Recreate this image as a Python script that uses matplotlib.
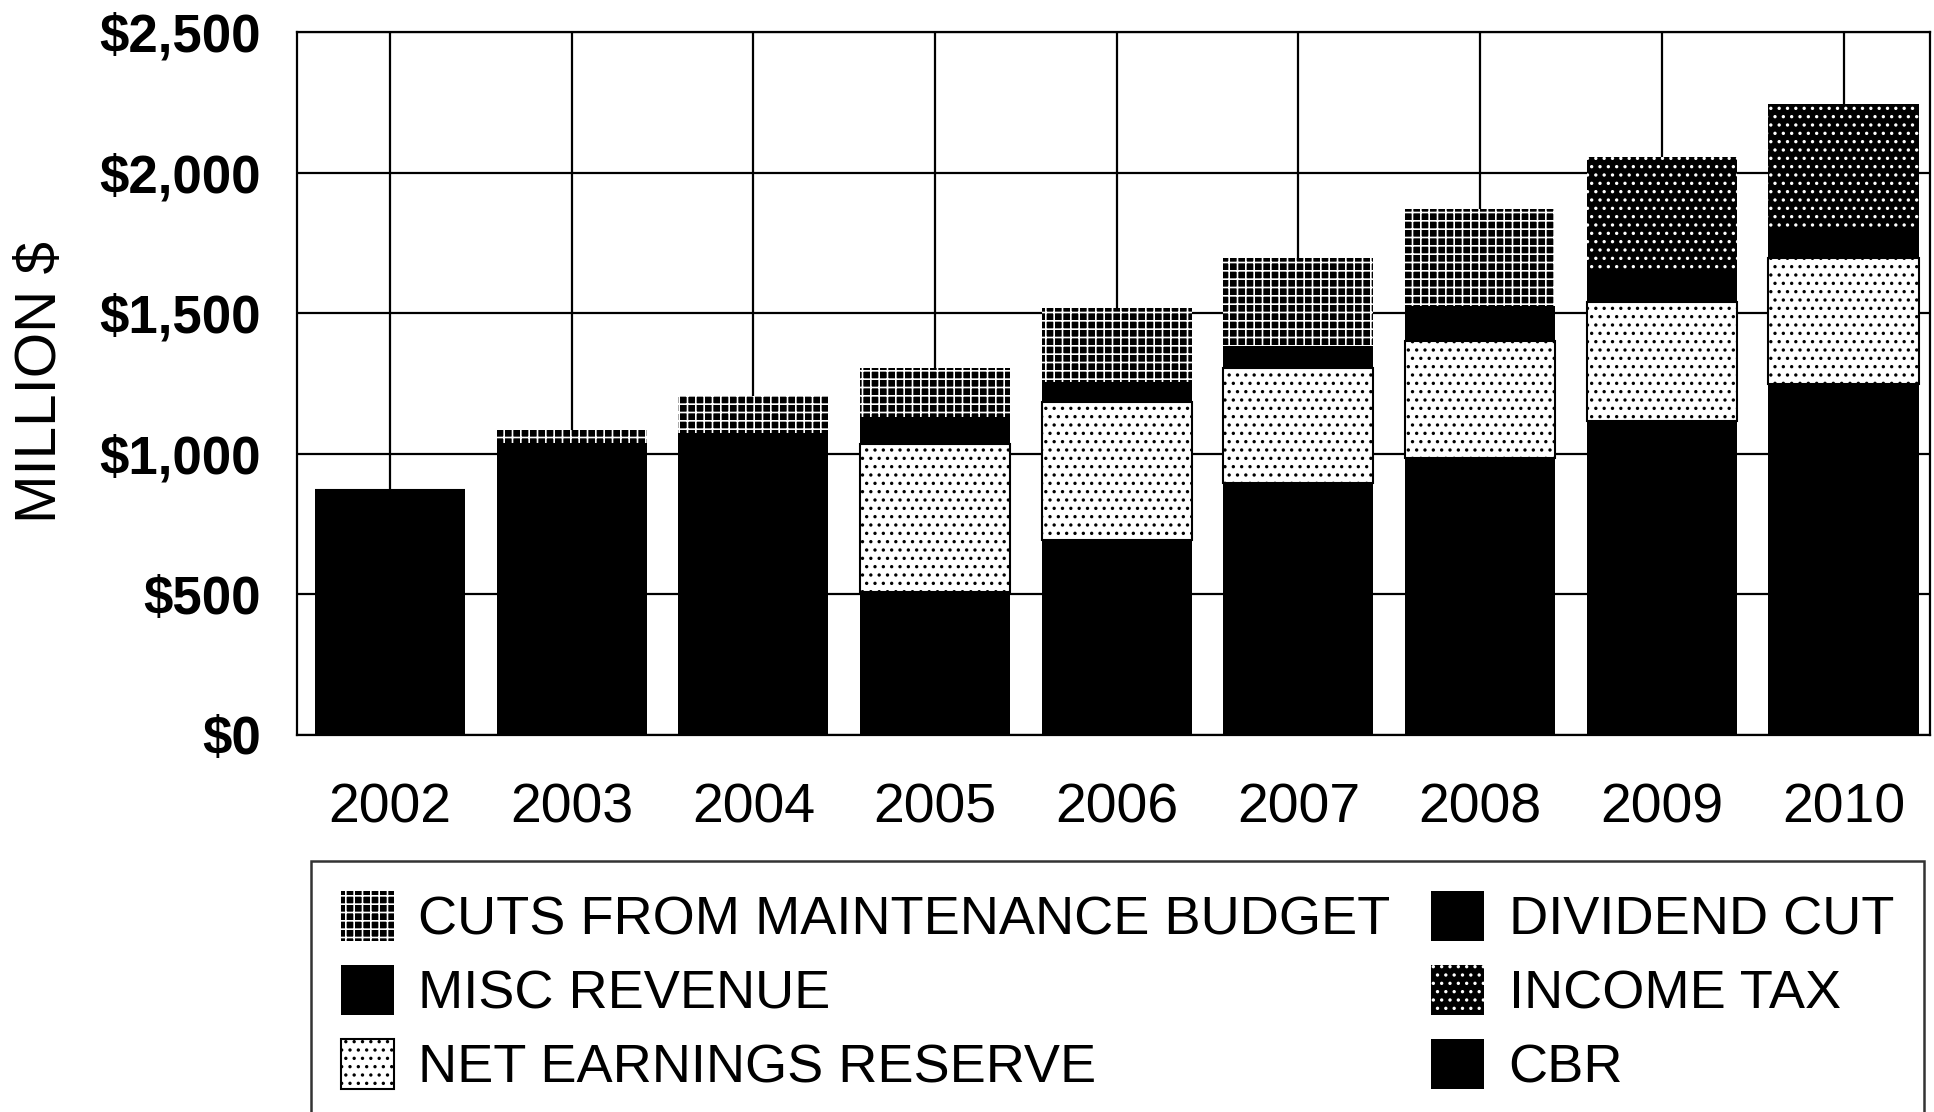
import matplotlib
matplotlib.use("Agg")
import matplotlib.pyplot as plt
import numpy as np

plt.rcParams["font.family"] = ["Liberation Sans", "DejaVu Sans"]
plt.rcParams["hatch.linewidth"] = 1.2

# values (million $)
years = ["2002", "2003", "2004", "2005", "2006", "2007", "2008", "2009", "2010"]
cbr = [870, 1040, 1075, 510, 695, 895, 985, 1115, 1250]
net_earnings_reserve = [0, 0, 0, 525, 490, 410, 415, 425, 445]
misc_revenue = [0, 0, 0, 95, 70, 80, 125, 110, 105]
dividend_cut = [0, 0, 0, 0, 0, 0, 0, 0, 0]
cuts_maintenance = [0, 45, 130, 175, 265, 310, 345, 0, 0]
income_tax = [0, 0, 0, 0, 0, 0, 0, 405, 445]

yticks = [0, 500, 1000, 1500, 2000, 2500]
ytick_labels = ["$0", "$500", "$1,000", "$1,500", "$2,000", "$2,500"]

fig = plt.figure(figsize=(19.34, 11.12), dpi=100)
ax = fig.add_axes([297 / 1934, 1 - 735 / 1112, (1930 - 297) / 1934, (735 - 32) / 1112])

x = np.arange(len(years))
width = 0.826

# stacked from the bottom up
series = [
    ("CBR", cbr, dict(color="black", edgecolor="black", linewidth=0)),
    ("NET EARNINGS RESERVE", net_earnings_reserve,
     dict(facecolor="white", edgecolor="black", linewidth=1.5, hatch="..")),
    ("MISC REVENUE", misc_revenue, dict(color="black", edgecolor="black", linewidth=0)),
    ("DIVIDEND CUT", dividend_cut, dict(color="black", edgecolor="black", linewidth=0)),
    ("CUTS FROM MAINTENANCE BUDGET", cuts_maintenance,
     dict(facecolor="black", edgecolor="white", linewidth=0, hatch="++")),
    ("INCOME TAX", income_tax,
     dict(facecolor="black", edgecolor="white", linewidth=0, hatch="..")),
]

handles = {}
bottom = np.zeros(len(years))
for name, vals, style in series:
    bars = ax.bar(x, vals, width, bottom=bottom, zorder=3, **style)
    handles[name] = bars
    bottom += np.array(vals)

ax.set_xlim(-0.512, 8.476)
ax.set_ylim(0, 2500)
ax.set_xticks(x)
ax.set_xticklabels(years, fontsize=40)
ax.set_yticks(yticks)
ax.set_yticklabels(ytick_labels, fontsize=38, fontweight="bold")
ax.tick_params(axis="x", length=0, pad=34)
ax.tick_params(axis="y", length=0, pad=26)

ax.set_axisbelow(True)
ax.grid(True, color="black", linewidth=1.6)
for s in ax.spines.values():
    s.set_linewidth(1.6)

fig.text(41 / 1934, 1 - 382 / 1112, "MILLION $", rotation=90,
         ha="center", va="center", fontsize=42)

# legend: column-major order as in the original
order = ["CUTS FROM MAINTENANCE BUDGET", "MISC REVENUE", "NET EARNINGS RESERVE",
         "DIVIDEND CUT", "INCOME TAX", "CBR"]
leg = fig.legend([handles[n] for n in order], order, ncol=2,
                 loc="upper left", bbox_to_anchor=(311 / 1934, 1 - 861 / 1112),
                 fontsize=39, frameon=True, fancybox=False, shadow=False,
                 handlelength=0.98, handleheight=1.05, handletextpad=0.45,
                 labelspacing=0.36, columnspacing=0.75, borderpad=0.55,
                 borderaxespad=0)
leg.get_frame().set_edgecolor("black")
leg.get_frame().set_linewidth(1.8)

fig.savefig("out.png", dpi=100, facecolor="white")
